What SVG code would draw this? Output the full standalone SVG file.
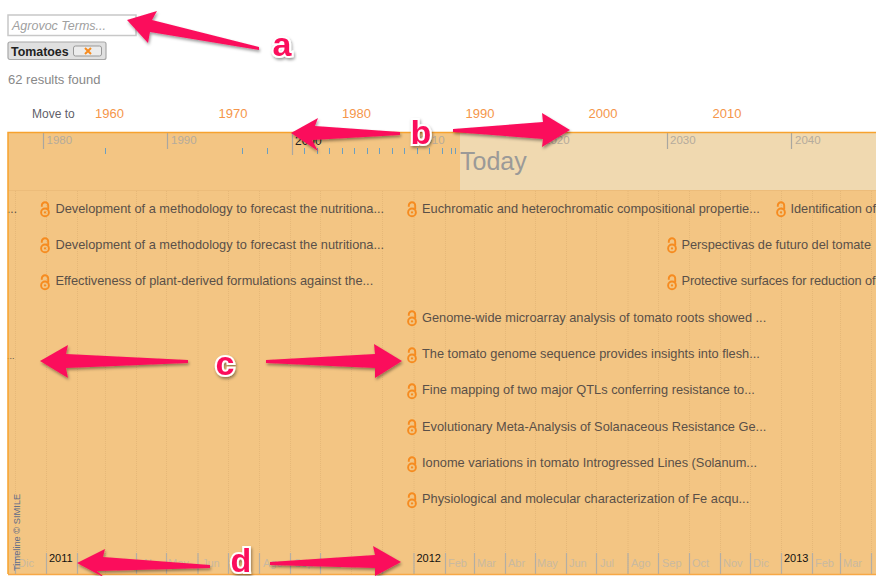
<svg xmlns="http://www.w3.org/2000/svg" width="876" height="576" viewBox="0 0 876 576">
<style>
text{font-family:"Liberation Sans",Arial,sans-serif;font-size:12px}
.yr{fill:#f5964a;text-anchor:middle;font-size:13px}
.ev{fill:#5a5048;font-size:12.800px}
.dec{fill:#b5ab9c;font-size:11.500px}
.mo{fill:#c9b9a0;font-size:11px}
.grid line{stroke:#e6b878;stroke-width:1;stroke-dasharray:1 1}
.big line{stroke:#a9a7a0;stroke-width:1.2}
.tick line{stroke:#6c9fc0;stroke-width:1}
.mt line{stroke:#b3aea4;stroke-width:1.2}
.arrow{fill:#fb0f5b;filter:url(#sh)}
.lab{font-family:"Liberation Sans",Arial,sans-serif;font-weight:700;font-size:34px;fill:#fb0f5b;stroke:#fff;stroke-width:4px;paint-order:stroke;text-anchor:middle;filter:url(#sh)}
</style>
<defs>
<filter id="sh" x="-20%" y="-30%" width="140%" height="170%"><feDropShadow dx="1" dy="2" stdDeviation="1.5" flood-color="#000" flood-opacity="0.4"/></filter>
<g id="lock" fill="none" stroke="#f68b1f" stroke-width="1.9"><path d="M-3.2 -3.2V-4.5A3.2 3.2 0 0 1 3.2 -4.5V-0.5"/><circle cx="0" cy="2.4" r="3.9"/><circle cx="0" cy="2.4" r="1.1" fill="#f68b1f" stroke="none"/></g>
</defs>
<rect width="876" height="576" fill="#fff"/>
<g id="search"><rect x="8" y="15" width="128" height="20.500" fill="#fff" stroke="#c8c8c8" stroke-width="1.500"/><text x="12" y="30" fill="#a0a0a0" font-style="italic" style="font-size:12.500px">Agrovoc Terms...</text></g>
<g id="tag"><rect x="8" y="42" width="98" height="17.500" rx="2" fill="#e0e0e0" stroke="#a8a8a8" stroke-width="1.200"/><text x="11" y="56" fill="#222" font-weight="700" style="font-size:12.400px">Tomatoes</text><rect x="73.500" y="46" width="28" height="10" rx="2" fill="#ececec" stroke="#999"/><path d="M85 48L91 54M91 48L85 54" stroke="#f68b1f" stroke-width="2"/></g>
<text id="results" x="8" y="84" fill="#888" style="font-size:13px">62 results found</text>
<g id="move-to"><text x="32" y="118" fill="#5f5f6a">Move to</text>
<text class="yr" x="109.500" y="118">1960</text><text class="yr" x="233" y="118">1970</text><text class="yr" x="356.500" y="118">1980</text><text class="yr" x="480" y="118">1990</text><text class="yr" x="603" y="118">2000</text><text class="yr" x="727" y="118">2010</text></g>
<g id="timeline">
<rect x="8" y="132" width="868" height="442" fill="#f3c583"/>
<rect x="460" y="133" width="416" height="57" fill="#f0d9b0"/>
<rect x="8" y="190" width="868" height="1" fill="#ecbc7a"/>
<g class="grid"><line x1="15.500" y1="191" x2="15.500" y2="574"/><line x1="46.500" y1="191" x2="46.500" y2="574"/><line x1="77.500" y1="191" x2="77.500" y2="574"/><line x1="105.500" y1="191" x2="105.500" y2="574"/><line x1="136.500" y1="191" x2="136.500" y2="574"/><line x1="166.500" y1="191" x2="166.500" y2="574"/><line x1="198" y1="191" x2="198" y2="574"/><line x1="228.500" y1="191" x2="228.500" y2="574"/><line x1="259.500" y1="191" x2="259.500" y2="574"/><line x1="290.500" y1="191" x2="290.500" y2="574"/><line x1="320.500" y1="191" x2="320.500" y2="574"/><line x1="351.500" y1="191" x2="351.500" y2="574"/><line x1="382.500" y1="191" x2="382.500" y2="574"/><line x1="414" y1="191" x2="414" y2="574"/><line x1="445.500" y1="191" x2="445.500" y2="574"/><line x1="474.500" y1="191" x2="474.500" y2="574"/><line x1="505.500" y1="191" x2="505.500" y2="574"/><line x1="535.500" y1="191" x2="535.500" y2="574"/><line x1="566.500" y1="191" x2="566.500" y2="574"/><line x1="596.500" y1="191" x2="596.500" y2="574"/><line x1="628" y1="191" x2="628" y2="574"/><line x1="658.500" y1="191" x2="658.500" y2="574"/><line x1="689.500" y1="191" x2="689.500" y2="574"/><line x1="720.500" y1="191" x2="720.500" y2="574"/><line x1="750.500" y1="191" x2="750.500" y2="574"/><line x1="781.500" y1="191" x2="781.500" y2="574"/><line x1="812.500" y1="191" x2="812.500" y2="574"/><line x1="840.500" y1="191" x2="840.500" y2="574"/><line x1="871.500" y1="191" x2="871.500" y2="574"/></g>
<g class="big"><line x1="43.500" y1="133" x2="43.500" y2="149"/><line x1="167.500" y1="133" x2="167.500" y2="149"/><line x1="292.500" y1="133" x2="292.500" y2="155"/><line x1="667.500" y1="133" x2="667.500" y2="149"/><line x1="791.500" y1="133" x2="791.500" y2="149"/></g>
<text class="dec" x="46.500" y="144">1980</text><text class="dec" x="171" y="144">1990</text><text x="295" y="145" fill="#222">2000</text><text class="dec" x="419" y="144">2010</text><text class="dec" x="544" y="144">2020</text><text class="dec" x="670" y="144">2030</text><text class="dec" x="795" y="144">2040</text>
<g class="tick"><line x1="105.500" y1="148" x2="105.500" y2="154"/><line x1="242.500" y1="148" x2="242.500" y2="154"/><line x1="267.500" y1="148" x2="267.500" y2="154"/><line x1="304.500" y1="148" x2="304.500" y2="154"/><line x1="317.500" y1="148" x2="317.500" y2="154"/><line x1="329.500" y1="148" x2="329.500" y2="154"/><line x1="342.500" y1="148" x2="342.500" y2="154"/><line x1="354.500" y1="148" x2="354.500" y2="154"/><line x1="367.500" y1="148" x2="367.500" y2="154"/><line x1="379.500" y1="148" x2="379.500" y2="154"/><line x1="392.500" y1="148" x2="392.500" y2="154"/><line x1="404.500" y1="148" x2="404.500" y2="154"/><line x1="417.500" y1="148" x2="417.500" y2="154"/><line x1="429.500" y1="148" x2="429.500" y2="154"/><line x1="442.500" y1="148" x2="442.500" y2="154"/><line x1="451.500" y1="148" x2="451.500" y2="154"/><line x1="455.500" y1="148" x2="455.500" y2="154"/></g>
<text x="460" y="170" fill="#9b9a98" style="font-size:25px">Today</text>
<text x="7" y="213" fill="#5a5048">...</text><text x="7" y="359" fill="#5a5048" style="font-size:9px">...</text>
<g class="mt"><line x1="15.500" y1="553" x2="15.500" y2="574"/><line x1="46.500" y1="553" x2="46.500" y2="574"/><line x1="77.500" y1="553" x2="77.500" y2="574"/><line x1="136.500" y1="553" x2="136.500" y2="574"/><line x1="166.500" y1="553" x2="166.500" y2="574"/><line x1="198" y1="553" x2="198" y2="574"/><line x1="228.500" y1="553" x2="228.500" y2="574"/><line x1="259.500" y1="553" x2="259.500" y2="574"/><line x1="290.500" y1="553" x2="290.500" y2="574"/><line x1="320.500" y1="553" x2="320.500" y2="574"/><line x1="382.500" y1="553" x2="382.500" y2="574"/><line x1="414" y1="553" x2="414" y2="574"/><line x1="445.500" y1="553" x2="445.500" y2="574"/><line x1="474.500" y1="553" x2="474.500" y2="574"/><line x1="505.500" y1="553" x2="505.500" y2="574"/><line x1="535.500" y1="553" x2="535.500" y2="574"/><line x1="566.500" y1="553" x2="566.500" y2="574"/><line x1="596.500" y1="553" x2="596.500" y2="574"/><line x1="628" y1="553" x2="628" y2="574"/><line x1="658.500" y1="553" x2="658.500" y2="574"/><line x1="689.500" y1="553" x2="689.500" y2="574"/><line x1="720.500" y1="553" x2="720.500" y2="574"/><line x1="750.500" y1="553" x2="750.500" y2="574"/><line x1="781.500" y1="553" x2="781.500" y2="574"/><line x1="812.500" y1="553" x2="812.500" y2="574"/><line x1="840.500" y1="553" x2="840.500" y2="574"/><line x1="871.500" y1="553" x2="871.500" y2="574"/></g>
<text class="mo" x="18" y="567">Dic</text><text x="49" y="562" fill="#111" style="font-size:11px">2011</text><text class="mo" x="142" y="567">Abr</text><text class="mo" x="168" y="567">May</text><text class="mo" x="202" y="567">Jun</text><text class="mo" x="263" y="567">Ago</text><text class="mo" x="294" y="567">Sep</text><text x="416.500" y="562" fill="#111" style="font-size:11px">2012</text><text class="mo" x="448" y="567">Feb</text><text class="mo" x="477" y="567">Mar</text><text class="mo" x="508" y="567">Abr</text><text class="mo" x="537" y="567">May</text><text class="mo" x="569" y="567">Jun</text><text class="mo" x="600" y="567">Jul</text><text class="mo" x="631" y="567">Ago</text><text class="mo" x="662" y="567">Sep</text><text class="mo" x="692" y="567">Oct</text><text class="mo" x="723" y="567">Nov</text><text class="mo" x="753" y="567">Dic</text><text x="784" y="562" fill="#111" style="font-size:11px">2013</text><text class="mo" x="815" y="567">Feb</text><text class="mo" x="843" y="567">Mar</text>
<text transform="translate(20,571) rotate(-90)" fill="#5f6b88" style="font-size:9.300px">Timeline © SIMILE</text>
<path d="M8 574V132.500H876" fill="none" stroke="#f7a22e" stroke-width="1.500"/><path d="M8 574.500H876" fill="none" stroke="#f7a845" stroke-width="1.500"/>
</g>
<g id="ev1"><use href="#lock" x="45" y="210"/><text class="ev" x="55.500" y="213">Development of a methodology to forecast the nutritiona...</text></g>
<g id="ev2"><use href="#lock" x="45" y="246"/><text class="ev" x="55.500" y="249">Development of a methodology to forecast the nutritiona...</text></g>
<g id="ev3"><use href="#lock" x="45" y="283"/><text class="ev" x="55.500" y="285">Effectiveness of plant-derived formulations against the...</text></g>
<g id="ev4"><use href="#lock" x="412" y="210"/><text class="ev" x="422" y="213">Euchromatic and heterochromatic compositional propertie...</text></g>
<g id="ev5"><use href="#lock" x="781" y="210"/><text class="ev" x="790.500" y="213" textLength="85.500">Identification of</text></g>
<g id="ev6"><use href="#lock" x="672" y="246"/><text class="ev" x="681.500" y="249" textLength="189.500">Perspectivas de futuro del tomate</text></g>
<g id="ev7"><use href="#lock" x="672" y="283"/><text class="ev" x="681.500" y="285" textLength="194">Protective surfaces for reduction of</text></g>
<g id="ev8"><use href="#lock" x="412" y="319"/><text class="ev" x="422" y="322">Genome-wide microarray analysis of tomato roots showed ...</text></g>
<g id="ev9"><use href="#lock" x="412" y="356"/><text class="ev" x="422" y="358">The tomato genome sequence provides insights into flesh...</text></g>
<g id="ev10"><use href="#lock" x="412" y="392"/><text class="ev" x="422" y="394">Fine mapping of two major QTLs conferring resistance to...</text></g>
<g id="ev11"><use href="#lock" x="412" y="428"/><text class="ev" x="422" y="431">Evolutionary Meta-Analysis of Solanaceous Resistance Ge...</text></g>
<g id="ev12"><use href="#lock" x="412" y="465"/><text class="ev" x="422" y="467">Ionome variations in tomato Introgressed Lines (Solanum...</text></g>
<g id="ev13"><use href="#lock" x="412" y="501"/><text class="ev" x="422" y="503">Physiological and molecular characterization of Fe acqu...</text></g>
<g id="connectors">
<polygon class="arrow" points="127,20 157,11 152,20 259,47 259,50 150,32 148,43"/>
<polygon class="arrow" points="291,133 318,118 315,126 400,132 400,135 312,140 318,151"/>
<polygon class="arrow" points="570,130 542,113 543,122 453,129 453,132 543,139 542,147"/>
<polygon class="arrow" points="40,361 68,345 66,354 188,360 188,363 66,368 68,378"/>
<polygon class="arrow" points="402,361 374,344 375,354 266,360 266,363 375,368 375,378"/>
<polygon class="arrow" points="77,563 105,549 103,557 210,565 210,568 97,571 105,578"/>
<polygon class="arrow" points="401,562 373,546 375,555 270,562 270,565 375,568 375,576"/>
</g>
<g id="labels">
<text class="lab" x="282" y="56">a</text>
<text class="lab" x="421" y="144">b</text>
<text class="lab" x="225" y="375">c</text>
<text class="lab" x="241" y="572">d</text>
</g>
</svg>
